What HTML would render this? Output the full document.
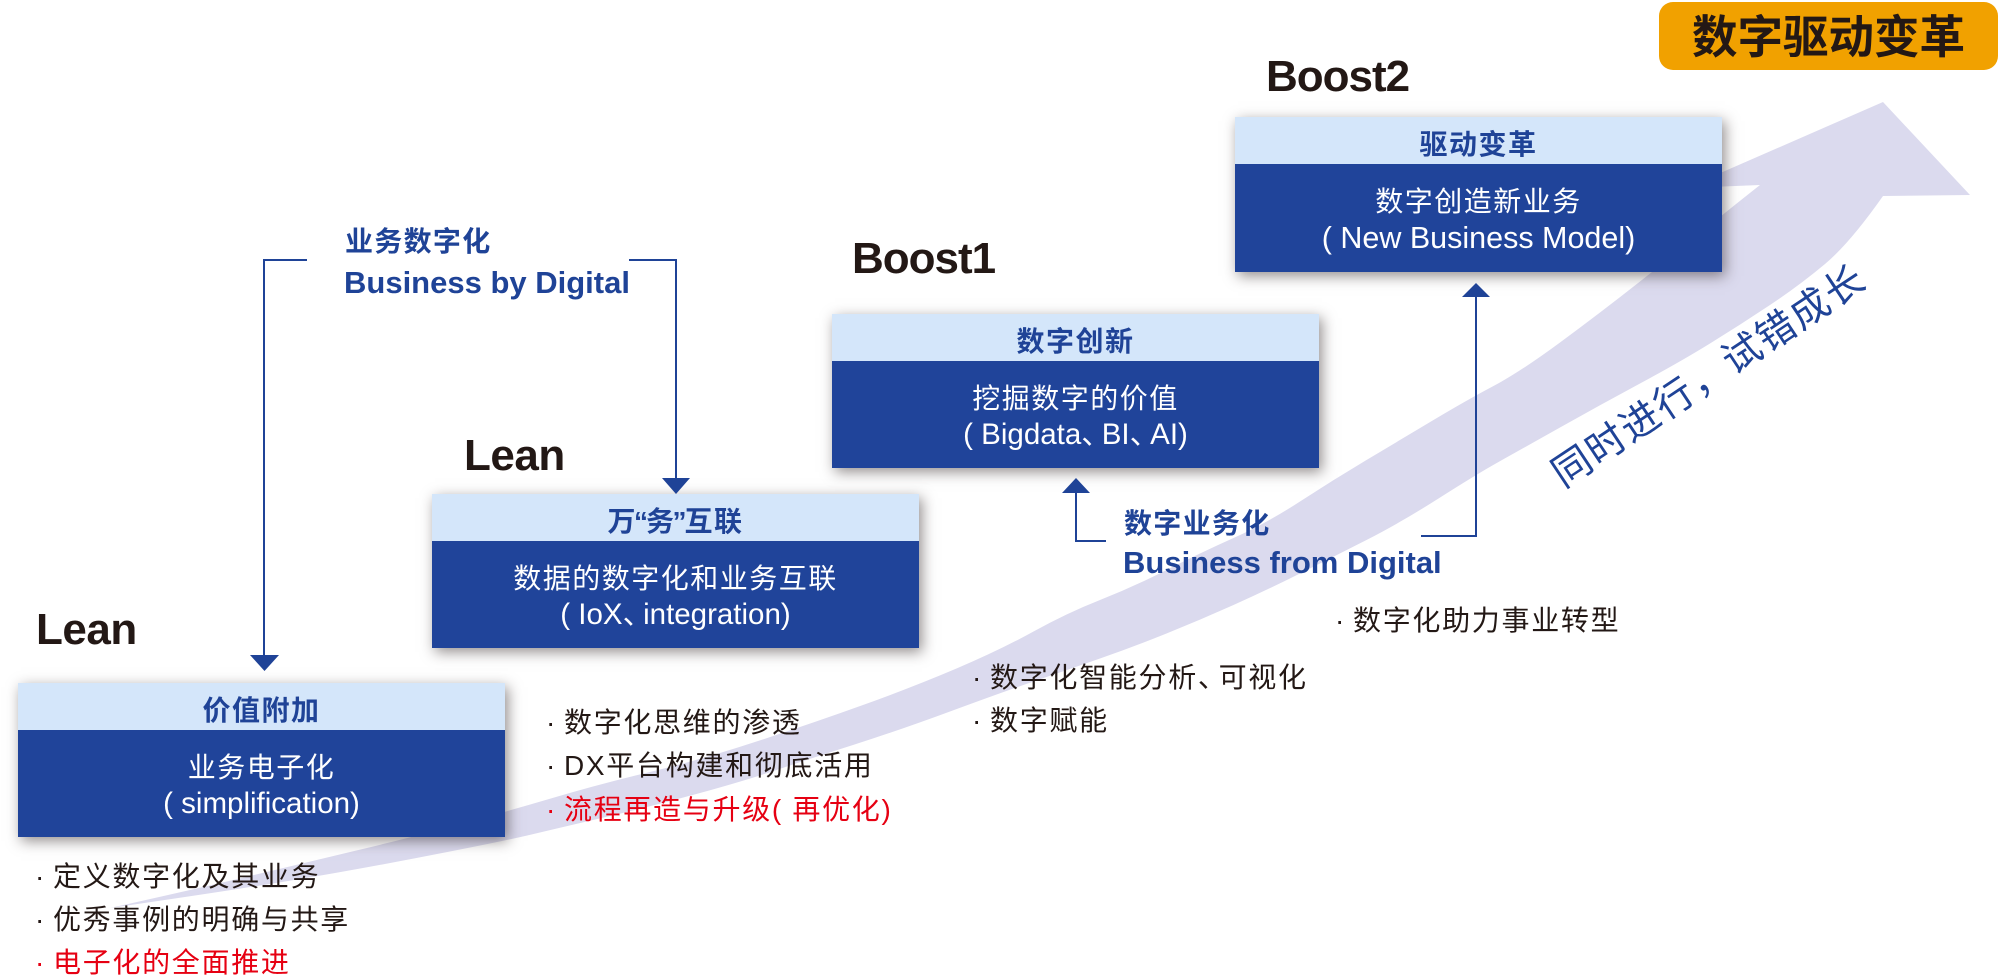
<!DOCTYPE html>
<html>
<head>
<meta charset="utf-8">
<style>
  html,body{margin:0;padding:0;background:#fff;}
  body{width:2000px;height:977px;position:relative;overflow:hidden;
    font-family:"Liberation Sans","Noto Sans CJK SC",sans-serif;}
  .abs{position:absolute;white-space:nowrap;}
  .box{position:absolute;width:487px;height:154px;background:#20449A;
    box-shadow:3px 4px 13px rgba(40,30,30,0.5);}
  .box .hd{position:absolute;left:0;top:0;width:100%;height:47px;background:#D4E6FA;}
  .box .t{position:absolute;left:0;width:100%;text-align:center;white-space:nowrap;}
  .box .h{top:11px;height:34px;line-height:34px;font-size:28px;font-weight:bold;color:#1F4397;letter-spacing:1.5px;}
  .box .l1{top:68px;height:34px;line-height:34px;font-size:28px;color:#fff;letter-spacing:1.5px;}
  .box .l2{top:104px;height:34px;line-height:34px;font-size:29.5px;color:#fff;}
  .dun{margin-right:-9px;}
  .big{font-size:44px;font-weight:bold;color:#231815;line-height:44px;height:44px;}
  .lab{font-size:28px;font-weight:bold;color:#1F4397;letter-spacing:1.3px;line-height:34px;height:34px;}
  .lat{font-size:31px;font-weight:bold;color:#1F4397;line-height:31px;height:31px;}
  .b{position:absolute;white-space:nowrap;font-size:28px;letter-spacing:1.7px;color:#231815;line-height:34px;height:34px;}
  .b i{position:absolute;left:-18px;top:0;font-style:normal;letter-spacing:0;}
  .red{color:#E60012;}
  .q{letter-spacing:-2px;margin-left:-3px;}
</style>
</head>
<body>

<!-- big lavender arrow band -->
<svg class="abs" style="left:0;top:0" width="2000" height="977" viewBox="0 0 2000 977">
  <path fill="#DBDAEE" d="M110,908
    Q200,888 250,876 Q300,864 358.5,850 Q417,836 461,824 Q505,812 552.5,798
    Q600,784 650,772 Q700,760 756.5,741.5 Q813,723 863,705 Q913,687 956.5,668.5
    Q1000,650 1033.5,631.5 Q1067,613 1100,600 Q1133,587 1166.5,570 Q1200,553 1233.5,538
    Q1267,523 1300,501.5 Q1333,480 1366.5,460 Q1400,440 1433.5,420 Q1467,400 1493.5,386
    Q1520,372 1560,342.5 Q1600,313 1640,281.5 Q1680,250 1701,232.5 Q1722,215 1760,185
    L1686,188 L1883,102 L1970,195 L1883,196
    Q1850,243 1825,264 Q1800,285 1770,305 Q1740,325 1710,343.5 Q1680,362 1640,383.5
    Q1600,405 1560,427.5 Q1520,450 1498.5,462 Q1477,474 1438.5,498.5 Q1400,523 1366.5,540
    Q1333,557 1300,573.5 Q1267,590 1233.5,605 Q1200,620 1166.5,633.5 Q1133,647 1100,658.5
    Q1067,670 1033.5,681.5 Q1000,693 950,711.5 Q900,730 853,745 Q806,760 776.5,770
    Q747,780 700,793 Q653,806 608,816.5 Q563,827 531.5,834.5 Q500,842 416.5,858
    Q333,874 266.5,884.5 Q200,895 110,908 Z"/>
</svg>

<!-- orange title -->
<div class="abs" style="left:1659px;top:2px;width:339px;height:68px;background:#F1A100;border-radius:14px;"></div>
<div class="abs" style="left:1659px;top:4px;width:339px;height:68px;line-height:68px;text-align:center;font-size:45.5px;font-weight:bold;color:#231815;">数字驱动变革</div>

<!-- stage labels -->
<div class="abs big" style="left:36px;top:608px;letter-spacing:-0.5px;">Lean</div>
<div class="abs big" style="left:464px;top:434px;letter-spacing:-0.5px;">Lean</div>
<div class="abs big" style="left:852px;top:237px;letter-spacing:-1px;">Boost1</div>
<div class="abs big" style="left:1266px;top:55px;letter-spacing:-1px;">Boost2</div>

<!-- boxes -->
<div class="box" style="left:18px;top:683px;">
  <div class="hd"></div>
  <div class="t h">价值附加</div>
  <div class="t l1">业务电子化</div>
  <div class="t l2">( simplification)</div>
</div>
<div class="box" style="left:432px;top:494px;">
  <div class="hd"></div>
  <div class="t h">万<span class="q">“</span>务<span class="q">”</span>互联</div>
  <div class="t l1">数据的数字化和业务互联</div>
  <div class="t l2">( IoX<span class="dun">、</span>integration)</div>
</div>
<div class="box" style="left:832px;top:314px;">
  <div class="hd"></div>
  <div class="t h">数字创新</div>
  <div class="t l1">挖掘数字的价值</div>
  <div class="t l2">( Bigdata<span class="dun">、</span>BI<span class="dun">、</span>AI)</div>
</div>
<div class="box" style="left:1235px;top:117px;height:155px;">
  <div class="hd"></div>
  <div class="t h">驱动变革</div>
  <div class="t l1">数字创造新业务</div>
  <div class="t l2" style="font-size:30.5px;">( New Business Model)</div>
</div>

<!-- connectors -->
<svg class="abs" style="left:0;top:0" width="2000" height="977" viewBox="0 0 2000 977">
  <g fill="none" stroke="#1F4397" stroke-width="2">
    <path d="M307 260 H264 V657"/>
    <path d="M629 260 H676 V480"/>
    <path d="M1106 541 H1076 V492"/>
    <path d="M1421 536 H1476 V296"/>
  </g>
  <g fill="#1F4397">
    <polygon points="250,655 279,655 264.5,671"/>
    <polygon points="662,478 690,478 676,494"/>
    <polygon points="1062,493 1090,493 1076,478"/>
    <polygon points="1462,297 1490,297 1476,283"/>
  </g>
</svg>

<!-- connector labels -->
<div class="abs lab" style="left:345px;top:225px;">业务数字化</div>
<div class="abs lat" style="left:344px;top:267px;">Business by Digital</div>
<div class="abs lab" style="left:1124px;top:507px;">数字业务化</div>
<div class="abs lat" style="left:1123px;top:547px;">Business from Digital</div>

<!-- bullets left -->
<div class="b" style="left:53px;top:860px;"><i>·</i>定义数字化及其业务</div>
<div class="b" style="left:53px;top:903px;"><i>·</i>优秀事例的明确与共享</div>
<div class="b red" style="left:53px;top:946px;"><i>·</i>电子化的全面推进</div>

<!-- bullets middle -->
<div class="b" style="left:564px;top:706px;"><i>·</i>数字化思维的渗透</div>
<div class="b" style="left:564px;top:749px;"><i>·</i>DX平台构建和彻底活用</div>
<div class="b red" style="left:564px;top:793px;"><i>·</i>流程再造与升级( 再优化)</div>

<!-- bullets right -->
<div class="b" style="left:990px;top:661px;"><i>·</i>数字化智能分析<span class="dun">、</span>可视化</div>
<div class="b" style="left:990px;top:704px;"><i>·</i>数字赋能</div>

<div class="b" style="left:1353px;top:604px;"><i>·</i>数字化助力事业转型</div>

<!-- rotated slogan -->
<div class="abs" style="left:1526px;top:357px;width:367px;height:40px;line-height:40px;text-align:center;font-size:39px;letter-spacing:1.8px;color:#1F4397;transform:rotate(-33.6deg);transform-origin:50% 50%;">同时进行，试错成长</div>

</body>
</html>
